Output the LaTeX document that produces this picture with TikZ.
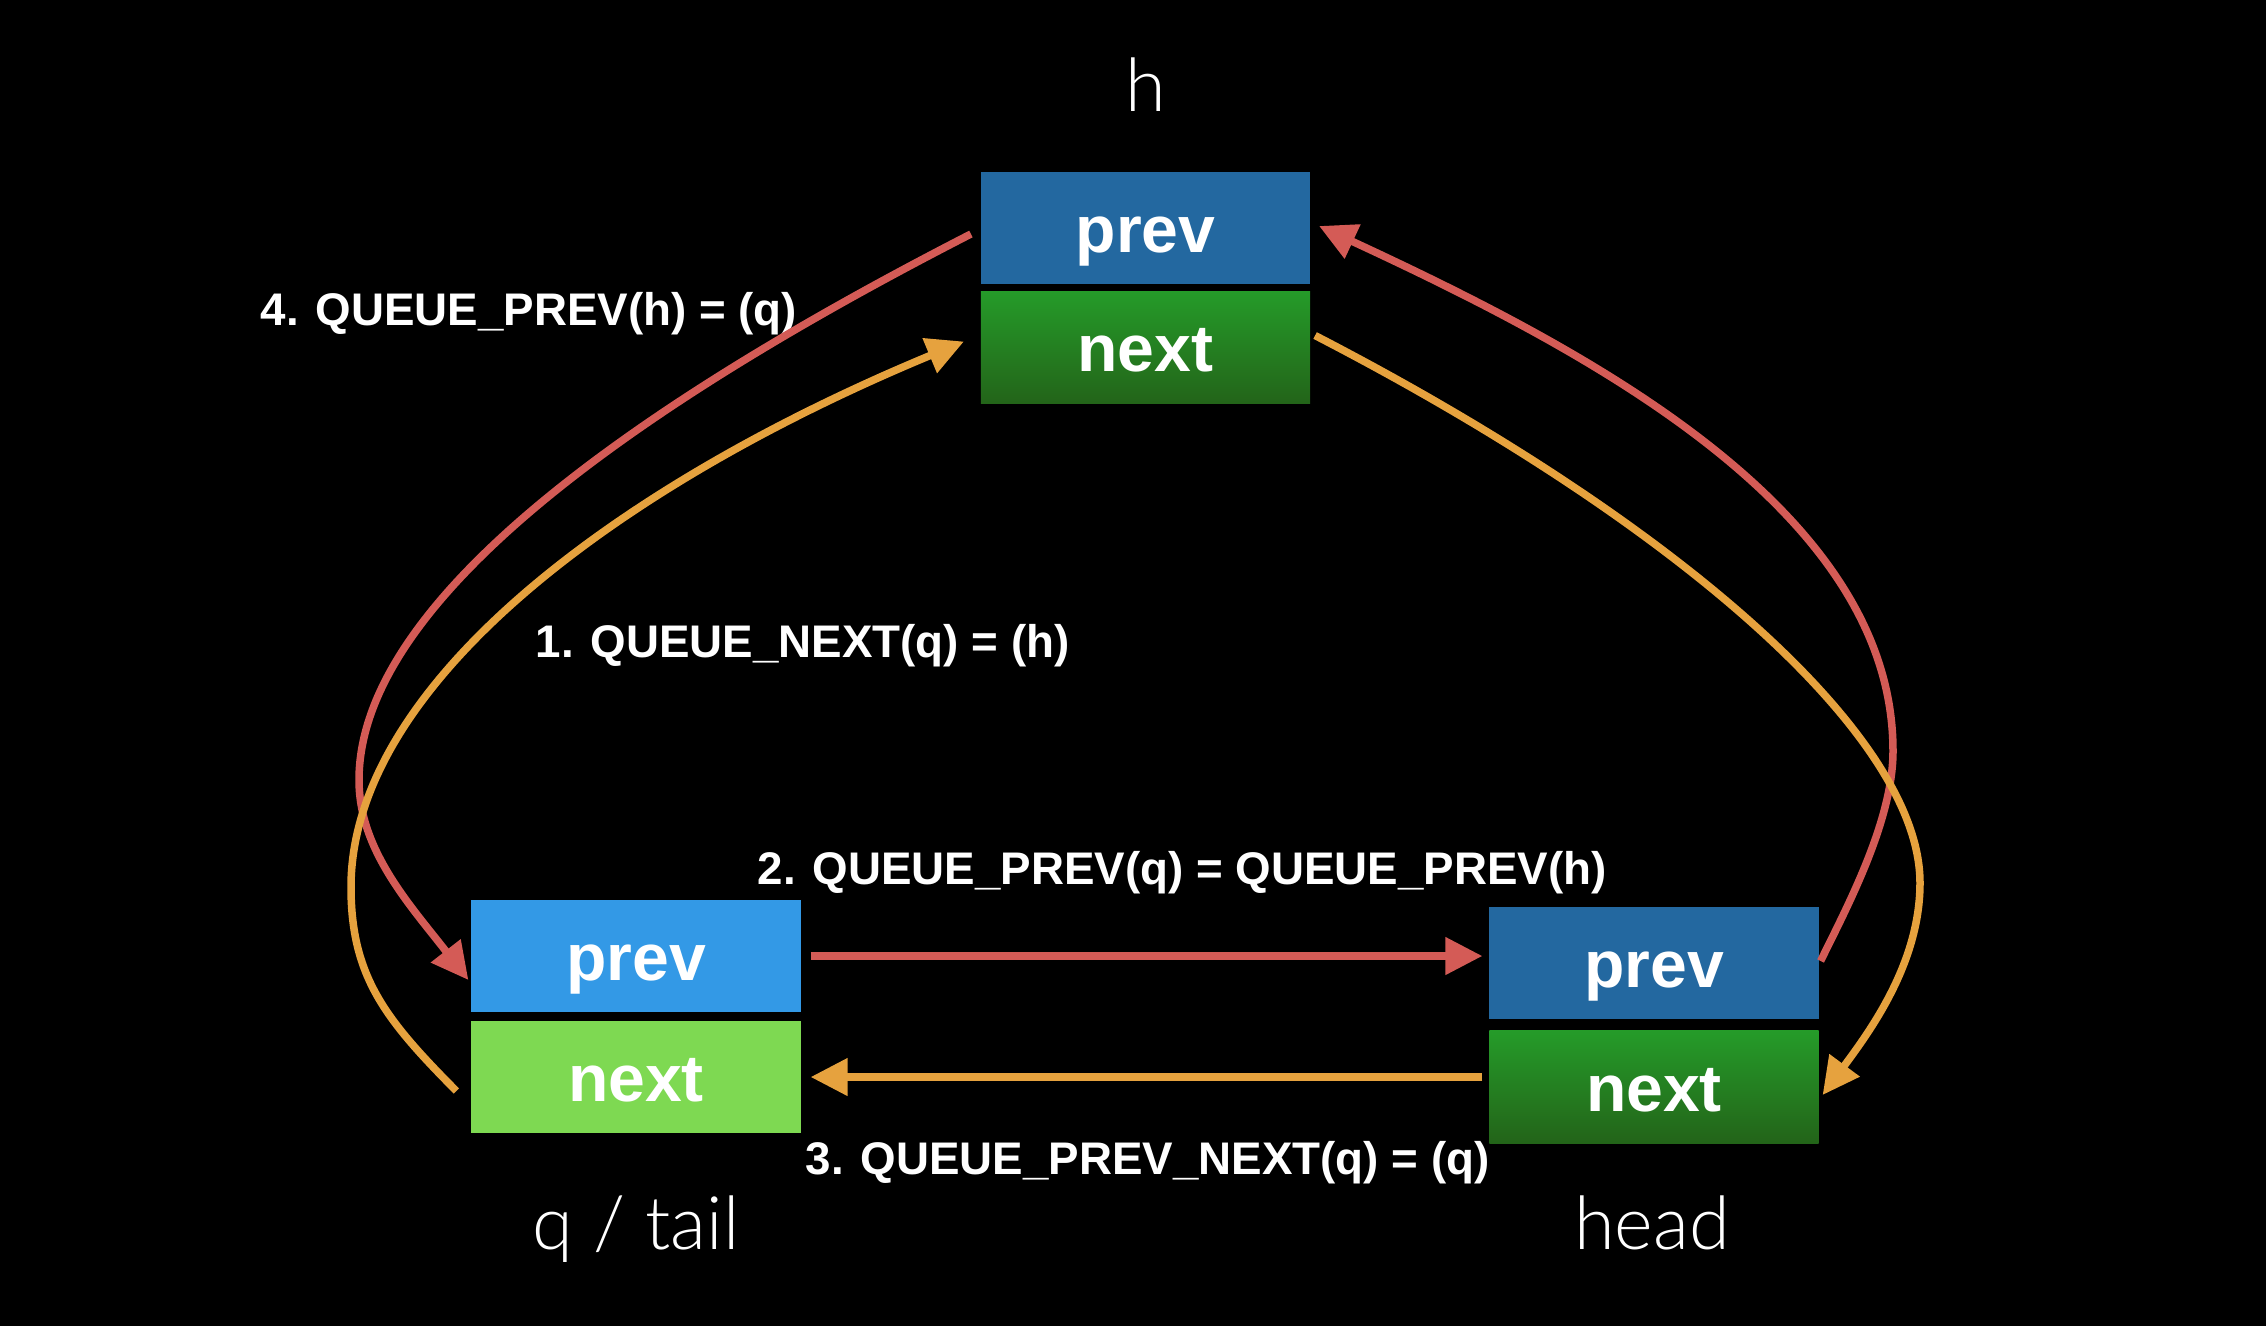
\documentclass[tikz,border=0pt]{standalone}
\usepackage{fontspec}
\setmainfont{Liberation Sans}
\newfontfamily\lightfont{Lato Light}
\usetikzlibrary{arrows.meta,calc}
\definecolor{dkblue}{HTML}{2368A0}
\definecolor{ltblue}{HTML}{3399E6}
\definecolor{grtop}{HTML}{259B29}
\definecolor{grbot}{HTML}{236419}
\definecolor{ltgreen}{HTML}{7ED952}
\definecolor{redarr}{HTML}{D45B56}
\definecolor{orgarr}{HTML}{E6A23E}
\begin{document}
\begin{tikzpicture}[x=0.01cm,y=-0.01cm,
  cell/.style={minimum width=3.29cm, minimum height=1.12cm, inner sep=0pt, outer sep=0pt,
    text=white, font=\fontsize{18.8}{20}\selectfont\bfseries, text height=0.48cm, text depth=0cm},
  darkprev/.style={cell, fill=dkblue},
  darknext/.style={cell, top color=grtop, bottom color=grbot},
  lightprev/.style={cell, fill=ltblue},
  lightnext/.style={cell, fill=ltgreen},
  lab/.style={text=white, font=\fontsize{13}{15}\selectfont\bfseries, inner sep=0pt, anchor=base west},
  varname/.style={text=white, font=\lightfont\fontsize{21}{24}\selectfont, inner sep=0pt, anchor=base},
  redline/.style={draw=redarr, line width=0.075cm, -{Triangle[length=0.37cm,width=0.36cm]}},
  orgline/.style={draw=orgarr, line width=0.075cm, -{Triangle[length=0.37cm,width=0.36cm]}}]
\useasboundingbox (0,0) rectangle (2266,1326);
\fill[black] (0,0) rectangle (2266,1326);

% boxes
\node[darkprev] (tp) at (1145.5,228) {prev};
\node[darknext] (tn) at (1145.5,347.5) {next};
\node[lightprev] (lp) at (636,956) {prev};
\node[lightnext] (ln) at (636,1077) {next};
\node[darkprev] (rp) at (1654,963) {prev};
\node[darknext] (rn) at (1654,1087) {next};

% names
\node[varname] (hname) at (1146,111) {h};
\node[varname] (qname) at (636,1249) {q / tail};
\node[varname] (headname) at (1652,1249) {head};

% labels
\node[lab] (l4) at (260,325) {4. QUEUE\_PREV(h) = (q)};
\node[lab] (l1) at (535,657) {1. QUEUE\_NEXT(q) = (h)};
\node[lab] (l2) at (757,884) {2. QUEUE\_PREV(q) = QUEUE\_PREV(h)};
\node[lab] (l3) at (805,1174) {3. QUEUE\_PREV\_NEXT(q) = (q)};

% turning points
\coordinate (rL) at (359,780);
\coordinate (oL) at (351,887);
\coordinate (rR) at (1893,751);
\coordinate (oR) at (1920,883);

% curved connectors
\draw[redline] ($(tp.west)+(-10,6)$) .. controls (704,371) and (359,580) .. (rL)
  .. controls (359,850) and (410,905) .. ($(lp.west)+(-3,24)$);
\draw[orgline] ($(ln.west)+(-15,14)$) .. controls (386,1020) and (351,977) .. (oL)
  .. controls (351,687) and (613,487) .. ($(tn.west)+(-17,-6)$);
\draw[redline] ($(rp.east)+(2,-2)$) .. controls (1847,907) and (1893,821) .. (rR)
  .. controls (1893,511) and (1591,352) .. ($(tp.east)+(9,-2)$);
\draw[orgline] ($(tn.east)+(5,-12)$) .. controls (1670,519) and (1920,733) .. (oR)
  .. controls (1920,963) and (1870,1031) .. ($(rn.east)+(4,8)$);

% straight connectors
\draw[redline] ($(lp.east)+(10,0)$) -- ($(rp.west)+(-7,-7)$);
\draw[orgline] ($(rn.west)+(-7,-10)$) -- ($(ln.east)+(10,0)$);
\end{tikzpicture}
\end{document}
